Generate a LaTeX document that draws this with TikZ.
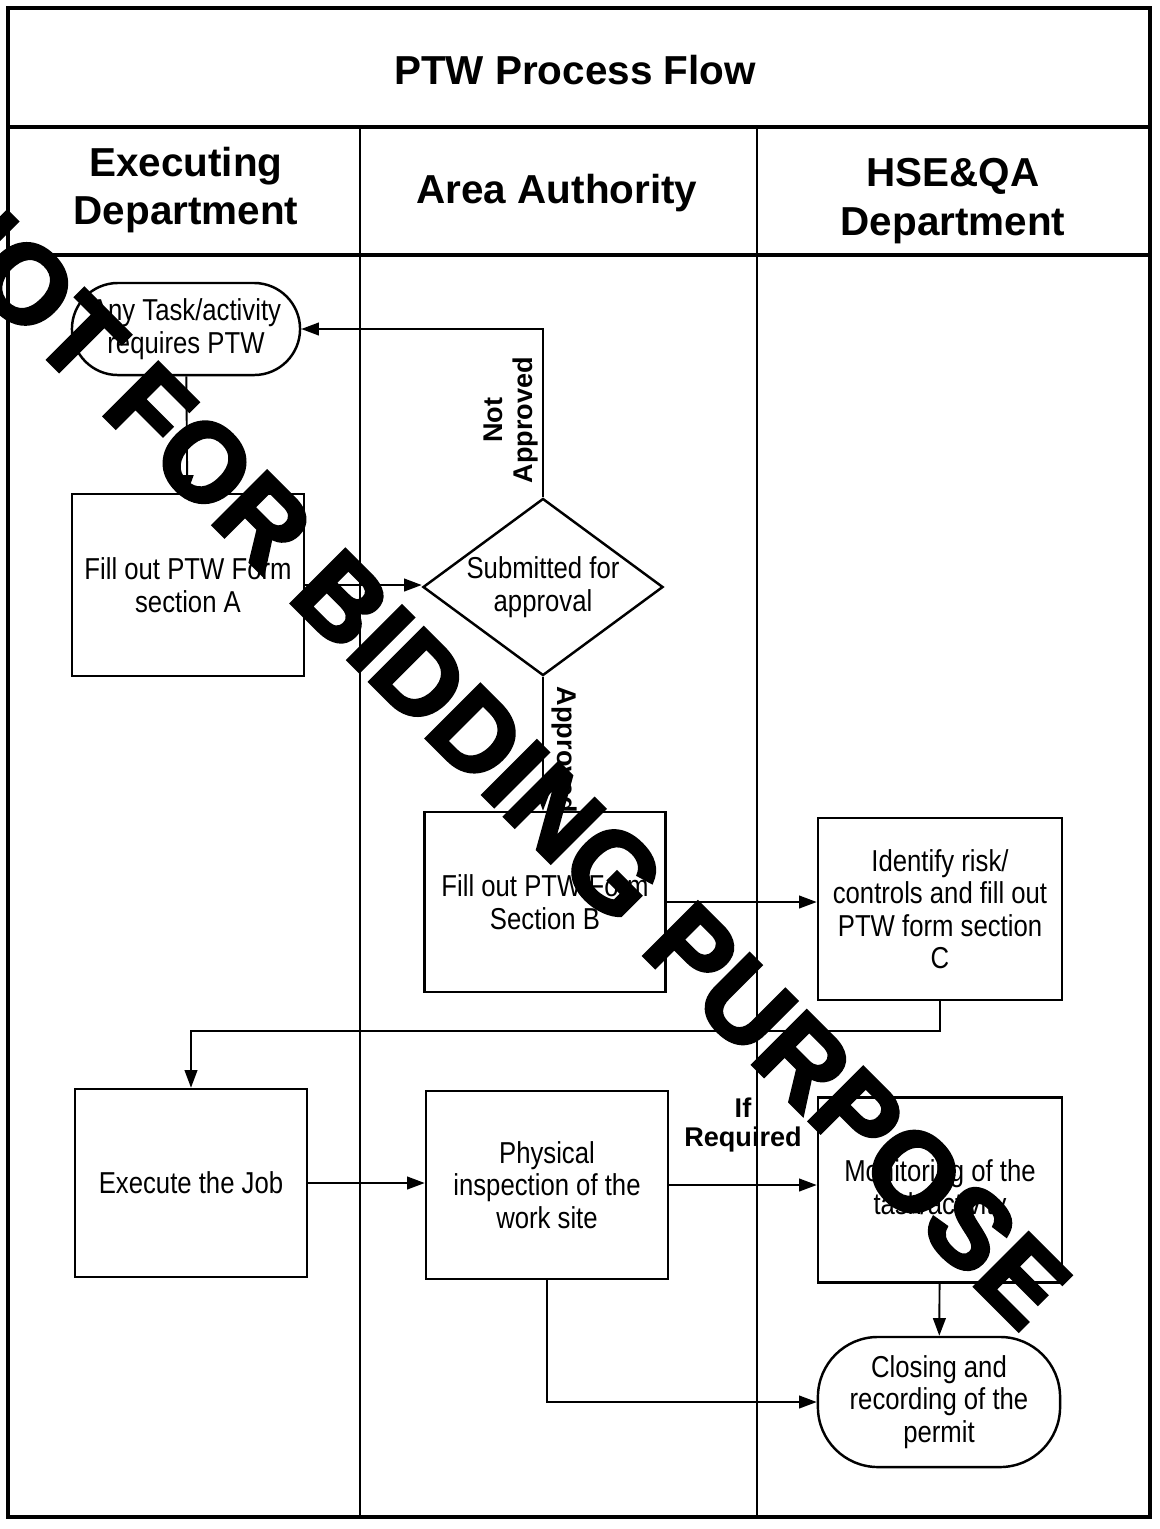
\documentclass[tikz,border=0pt]{standalone}
\usepackage{fontspec}
\setmainfont{Liberation Sans}
\newfontfamily\narrowfont[FakeStretch=0.85]{Liberation Sans}
\newfontfamily\stampfont[BoldFeatures={FakeBold=3}]{Liberation Sans}
\usetikzlibrary{shapes.geometric,arrows.meta}

\begin{document}
\begin{tikzpicture}[x=0.01cm, y=-0.01cm,
    frame/.style={line width=0.9pt},
    lane/.style={line width=0.45pt},
    stepbox/.style={draw, rectangle, line width=0.7pt, align=center, inner sep=2pt,
        font=\narrowfont\fontsize{8.6}{9.2}\selectfont},
    terminal/.style={stepbox, rounded corners=0.46cm},
    decision/.style={draw, diamond, aspect=1.36, line width=0.7pt, align=center, inner sep=0pt,
        font=\narrowfont\fontsize{8.6}{9.2}\selectfont},
    flow/.style={-{Triangle[length=5pt,width=3.6pt]}, line width=0.55pt},
    tag/.style={align=center, inner sep=1pt, font=\bfseries\fontsize{7.7}{8.4}\selectfont},
    heading/.style={align=center, font=\bfseries\fontsize{11.5}{13.7}\selectfont}]
    \useasboundingbox (0,0) rectangle (1160,1529);

    % swimlane frame
    \draw[frame] (8,8) rectangle (1150,1517);
    \draw[frame] (8,127) -- (1150,127);
    \draw[frame] (8,255) -- (1150,255);
    \draw[lane] (360,127) -- (360,1517);
    \draw[lane] (757,127) -- (757,1517);

    \node[heading] (title) at (575,70) {PTW Process Flow};
    \node[heading] (exdept) at (186,190) {Executing\\Department};
    \node[heading] (area) at (557,193) {Area Authority};
    \node[heading] (hse) at (953,201) {HSE\&QA\\Department};

    % steps
    \node[terminal, minimum width=2.28cm, minimum height=0.92cm] (start) at (186,329) {Any Task/activity\\requires PTW};
    \node[stepbox, minimum width=2.32cm, minimum height=1.82cm] (formA) at (188,585) {Fill out PTW Form\\section A};
    \node[decision, minimum width=2.4cm, minimum height=1.77cm] (submit) at (543,587) {Submitted for\\approval};
    \node[stepbox, minimum width=2.41cm, minimum height=1.8cm] (formB) at (545,902) {Fill out PTW Form\\Section B};
    \node[stepbox, minimum width=2.44cm, minimum height=1.82cm] (formC) at (940,909) {Identify risk/\\controls and fill out\\PTW form section\\C};
    \node[stepbox, minimum width=2.32cm, minimum height=1.88cm] (exec) at (191,1183) {Execute the Job};
    \node[stepbox, minimum width=2.42cm, minimum height=1.88cm] (inspect) at (547,1185) {Physical\\inspection of the\\work site};
    \node[stepbox, minimum width=2.44cm, minimum height=1.85cm] (monitor) at (940,1190) {Monitoring of the\\task/activity};
    \node[terminal, rounded corners=0.6cm, minimum width=2.42cm, minimum height=1.3cm] (close) at (939,1402) {Closing and\\recording of the\\permit};

    % connectors
    \draw[flow] (start) -- (formA);
    \draw[flow] (formA.east) -- (formA.east -| submit.west);
    \draw[flow] (submit.north) |- (start.east);
    \draw[flow] (submit.south) -- (submit.south |- formB.north);
    \draw[flow] (formB.east) -- (formB.east -| formC.west);
    \draw[flow] (formC.south) -- ++(0,30) -| (exec.north);
    \draw[flow] (exec.east) -- (exec.east -| inspect.west);
    \draw[flow] (inspect.east) -- (inspect.east -| monitor.west);
    \draw[flow] (monitor) -- (close);
    \draw[flow] (inspect.south) |- (close.west);

    \node[tag, rotate=90] (notok) at (511,420) {Not\\Approved};
    \node[tag, rotate=-90] (ok) at (564,750) {Approved};
    \node[tag] (ifreq) at (743,1125) {If\\Required};

    % watermark
    \node[rotate=-45, inner sep=0pt, font=\stampfont\bfseries\fontsize{31.5}{31.5}\selectfont] (stamp) at (494,752) {NOT FOR BIDDING PURPOSE};
\end{tikzpicture}
\end{document}
